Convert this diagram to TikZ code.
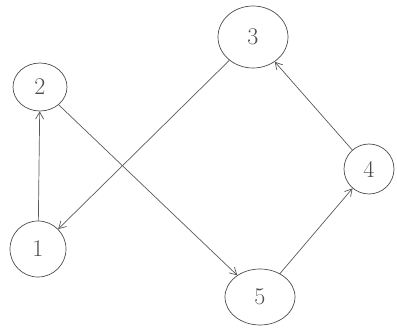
\documentclass[tikz,border=0pt]{standalone}
\usetikzlibrary{shapes.geometric,arrows.meta}
\begin{document}
\begin{tikzpicture}[x=1pt,y=-1pt,
  vert/.style={ellipse,draw=black!70,line width=0.7pt,inner sep=0pt,font=\fontsize{24}{24}\selectfont,text=black!70},
  edge/.style={draw=black!65,line width=0.7pt,-{Straight Barb[length=7pt,width=8pt]}}]
\useasboundingbox (0,0) rectangle (397,334);
\node[vert,minimum width=56pt,minimum height=56pt] (n1) at (38,249) {1};
\node[vert,minimum width=54pt,minimum height=48pt] (n2) at (40,87) {2};
\node[vert,minimum width=70pt,minimum height=62pt] (n3) at (253,37) {3};
\node[vert,minimum width=50pt,minimum height=50pt] (n4) at (369,169) {4};
\node[vert,minimum width=70pt,minimum height=56pt] (n5) at (260,297) {5};
\draw[edge] (n1) -- (n2);
\draw[edge] (n3) -- (n1);
\draw[edge] (n2) -- (n5);
\draw[edge] (n5) -- (n4);
\draw[edge] (n4) -- (n3);
\end{tikzpicture}
\end{document}
